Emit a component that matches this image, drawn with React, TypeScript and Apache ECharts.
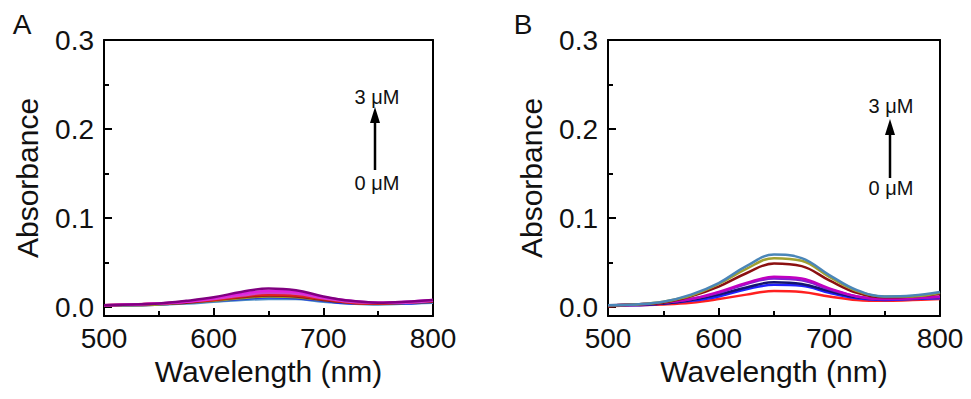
import React, { useEffect, useRef } from "react";
import * as echarts from "echarts";

const wavelengths = [500, 525, 550, 575, 600, 625, 650, 675, 700, 725, 750, 775, 800];

const yLabelValues = [0, 0.1, 0.2, 0.3];
const yMinorValues = [0.05, 0.15, 0.25];

// Panel A spectra (0 -> 3 µM), bottom to top
const seriesA = [
  { name: "A1", color: "#4a8cc4", data: [0.002, 0.002, 0.003, 0.004, 0.006, 0.008, 0.009, 0.009, 0.006, 0.004, 0.003, 0.004, 0.005] },
  { name: "A2", color: "#2030e0", data: [0.002, 0.002, 0.003, 0.005, 0.007, 0.009, 0.011, 0.010, 0.007, 0.004, 0.004, 0.004, 0.006] },
  { name: "A3", color: "#9a9a28", data: [0.002, 0.002, 0.003, 0.005, 0.007, 0.010, 0.012, 0.011, 0.008, 0.005, 0.004, 0.005, 0.006] },
  { name: "A4", color: "#8b1a1a", data: [0.002, 0.003, 0.004, 0.005, 0.008, 0.011, 0.013, 0.012, 0.008, 0.005, 0.004, 0.005, 0.006] },
  { name: "A5", color: "#e02020", data: [0.002, 0.003, 0.004, 0.006, 0.008, 0.012, 0.014, 0.013, 0.009, 0.005, 0.004, 0.005, 0.007] },
  { name: "A6", color: "#d040d0", data: [0.002, 0.003, 0.004, 0.006, 0.009, 0.013, 0.016, 0.015, 0.010, 0.006, 0.005, 0.005, 0.007] },
  { name: "A7", color: "#e020e0", data: [0.002, 0.003, 0.004, 0.006, 0.010, 0.015, 0.018, 0.017, 0.011, 0.007, 0.005, 0.006, 0.008] },
  { name: "A8", color: "#800080", data: [0.002, 0.003, 0.004, 0.007, 0.011, 0.017, 0.021, 0.019, 0.012, 0.007, 0.005, 0.006, 0.008] },
];

// Panel B spectra (0 -> 3 µM), bottom to top
const seriesB = [
  { name: "B1", color: "#ff2020", data: [0.001, 0.002, 0.003, 0.005, 0.009, 0.014, 0.018, 0.017, 0.012, 0.008, 0.007, 0.008, 0.009] },
  { name: "B2", color: "#2020ff", data: [0.002, 0.002, 0.004, 0.007, 0.012, 0.020, 0.025, 0.024, 0.016, 0.010, 0.008, 0.009, 0.010] },
  { name: "B3", color: "#141470", data: [0.002, 0.003, 0.004, 0.008, 0.014, 0.022, 0.028, 0.026, 0.018, 0.011, 0.009, 0.010, 0.011] },
  { name: "B4", color: "#8020d0", data: [0.002, 0.003, 0.005, 0.009, 0.016, 0.026, 0.032, 0.030, 0.020, 0.012, 0.009, 0.010, 0.011] },
  { name: "B5", color: "#c000c0", data: [0.002, 0.003, 0.005, 0.009, 0.017, 0.027, 0.034, 0.032, 0.021, 0.012, 0.009, 0.010, 0.012] },
  { name: "B6", color: "#8b1010", data: [0.002, 0.003, 0.005, 0.012, 0.023, 0.038, 0.049, 0.046, 0.030, 0.016, 0.011, 0.012, 0.015] },
  { name: "B7", color: "#a0a030", data: [0.002, 0.003, 0.006, 0.013, 0.026, 0.043, 0.055, 0.052, 0.034, 0.018, 0.012, 0.012, 0.016] },
  { name: "B8", color: "#4a86b8", data: [0.002, 0.003, 0.006, 0.014, 0.027, 0.046, 0.059, 0.055, 0.036, 0.019, 0.012, 0.013, 0.017] },
];

const FONT = "'Liberation Sans', Arial, sans-serif";

function buildAxes(gridIndex: number) {
  const xMain = {
    type: "value",
    gridIndex,
    min: 500,
    max: 800,
    interval: 100,
    name: "Wavelength (nm)",
    nameLocation: "middle",
    nameGap: 40,
    nameTextStyle: { fontFamily: FONT, fontSize: 30, color: "#111", verticalAlign: "top" },
    axisLine: { show: true, onZero: false, lineStyle: { color: "#000", width: 2 } },
    axisTick: { show: true, inside: true, length: 8, lineStyle: { color: "#000", width: 2 } },
    minorTick: { show: true, splitNumber: 2, length: 5, lineStyle: { color: "#000", width: 2 } },
    axisLabel: { fontFamily: FONT, fontSize: 28, color: "#111", margin: 8 },
    splitLine: { show: false },
    minorSplitLine: { show: false },
  };
  const xTop = {
    type: "value",
    gridIndex,
    position: "top",
    min: 500,
    max: 800,
    axisLine: { show: true, onZero: false, lineStyle: { color: "#000", width: 2 } },
    axisTick: { show: false },
    axisLabel: { show: false },
    splitLine: { show: false },
  };
  const yMain = {
    type: "value",
    gridIndex,
    min: -0.01,
    max: 0.3,
    name: "Absorbance",
    nameLocation: "middle",
    nameGap: 62,
    nameRotate: 90,
    nameTextStyle: { fontFamily: FONT, fontSize: 30, color: "#111" },
    axisLine: { show: true, onZero: false, lineStyle: { color: "#000", width: 2 } },
    axisTick: { show: true, inside: true, length: 8, customValues: yLabelValues, lineStyle: { color: "#000", width: 2 } },
    axisLabel: {
      fontFamily: FONT,
      fontSize: 28,
      color: "#111",
      margin: 10,
      customValues: yLabelValues,
      formatter: (v: number) => v.toFixed(1),
    },
    splitLine: { show: false },
  };
  const yMinor = {
    type: "value",
    gridIndex,
    min: -0.01,
    max: 0.3,
    position: "left",
    axisLine: { show: false },
    axisTick: { show: true, inside: true, length: 5, customValues: yMinorValues, lineStyle: { color: "#000", width: 2 } },
    axisLabel: { show: false },
    splitLine: { show: false },
  };
  const yRight = {
    type: "value",
    gridIndex,
    min: -0.01,
    max: 0.3,
    position: "right",
    axisLine: { show: true, onZero: false, lineStyle: { color: "#000", width: 2 } },
    axisTick: { show: false },
    axisLabel: { show: false },
    splitLine: { show: false },
  };
  return { x: [xMain, xTop], y: [yMain, yMinor, yRight] };
}

export default function App() {
  const ref = useRef<HTMLDivElement>(null);
  useEffect(() => {
    if (!ref.current) return;
    const chart = echarts.init(ref.current, undefined, { renderer: "svg" });
    const a = buildAxes(0);
    const b = buildAxes(1);
    const xAxis = [...a.x, ...b.x];
    const yAxis = [...a.y, ...b.y];
    const mk = (list: typeof seriesA, xIdx: number, yIdx: number) =>
      list.map((s) => ({
        type: "line",
        name: s.name,
        xAxisIndex: xIdx,
        yAxisIndex: yIdx,
        data: wavelengths.map((w, i) => [w, s.data[i]]),
        smooth: 0.4,
        showSymbol: false,
        lineStyle: { color: s.color, width: 2.5 },
        itemStyle: { color: s.color },
      }));
    const series = [...mk(seriesA, 0, 0), ...mk(seriesB, 2, 3)];

    const arrow = (x: number, top: number, headBase: number, bottom: number) => [
      { type: "line", shape: { x1: x, y1: bottom, x2: x, y2: headBase - 1 }, style: { stroke: "#000", lineWidth: 2.5 } },
      { type: "polygon", shape: { points: [[x, top], [x - 5, headBase], [x + 5, headBase]] }, style: { fill: "#000" } },
    ];
    const text = (t: string, x: number, y: number, size: number) => ({
      type: "text",
      x,
      y,
      style: {
        text: t,
        font: `${size}px ${FONT}`,
        fontSize: size,
        fontFamily: FONT,
        fill: "#111",
        align: "center",
        verticalAlign: "middle",
      },
    });

    chart.setOption({
      animation: false,
      backgroundColor: "#fff",
      grid: [
        { left: 104, top: 40, width: 329, height: 276 },
        { left: 608, top: 40, width: 332, height: 276 },
      ],
      xAxis,
      yAxis,
      series,
      graphic: [
        text("A", 22, 24, 28),
        text("B", 523, 24, 28),
        text("3 μM", 377, 97, 20),
        text("0 μM", 377, 183, 20),
        ...arrow(375, 107, 123, 170),
        text("3 μM", 891, 106, 20),
        text("0 μM", 891, 188, 20),
        ...arrow(890, 119, 135, 178),
      ],
    });
    return () => chart.dispose();
  }, []);
  return (
    <div
      ref={ref}
      style={{ position: "absolute", left: 0, top: 0, width: 971, height: 399, background: "#fff" }}
    />
  );
}
